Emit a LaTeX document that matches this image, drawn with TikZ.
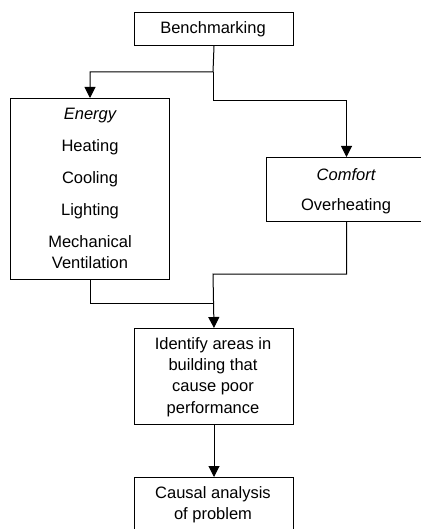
\documentclass[tikz,border=0pt]{standalone}
\usepackage{fontspec}
\setmainfont{Liberation Sans}
\usetikzlibrary{arrows.meta}
\begin{document}
\begin{tikzpicture}[x=1pt,y=-1pt,
  box/.style={draw=black,line width=1pt,fill=white},
  lbl/.style={inner sep=0pt,font=\fontsize{16.5}{21.3}\selectfont,align=center},
  conn/.style={draw=black,line width=1pt},
  arr/.style={conn,-{Triangle[length=11pt,width=11pt]}}]
\useasboundingbox (0,0) rectangle (420,529);
% boxes
\node[box,minimum width=159pt,minimum height=33pt,anchor=north west,inner sep=0pt] (bench) at (134,12) {};
\node[box,minimum width=159pt,minimum height=181pt,anchor=north west,inner sep=0pt] (energy) at (10,98) {};
\node[box,minimum width=160pt,minimum height=64pt,anchor=north west,inner sep=0pt] (comfort) at (266,157) {};
\node[box,minimum width=159pt,minimum height=96pt,anchor=north west,inner sep=0pt] (ident) at (134,328) {};
\node[box,minimum width=159pt,minimum height=60pt,anchor=north west,inner sep=0pt] (causal) at (134,477) {};
% texts
\node[lbl] (tbench) at (213,29) {Benchmarking};
\node[lbl] (t1) at (90,115.5) {\itshape Energy};
\node[lbl] (t2) at (90,147) {Heating};
\node[lbl] (t3) at (90,179) {Cooling};
\node[lbl] (t4) at (90,211) {Lighting};
\node[lbl] (t5) at (90,252) {Mechanical\\Ventilation};
\node[lbl] (t6) at (346,175) {\itshape Comfort};
\node[lbl] (t7) at (346,206) {Overheating};
\node[lbl] (t8) at (213,377) {Identify areas in\\building that\\cause poor\\performance};
\node[lbl] (t9) at (213,505) {Causal analysis\\of problem};
% connectors
\coordinate (j1) at (213,72);
\coordinate (j2) at (213,101);
\coordinate (j3) at (213,303);
\coordinate (j4) at (213,274);
\draw[arr] (bench.south) -- (j1) -| (energy.north);
\draw[arr] (j1) -- (j2) -| (comfort.north);
\draw[conn] (energy.south) |- (j3);
\draw[arr] (comfort.south) |- (j4) -- (ident.north);
\draw[arr] (ident.south) -- (causal.north);
\end{tikzpicture}
\end{document}
